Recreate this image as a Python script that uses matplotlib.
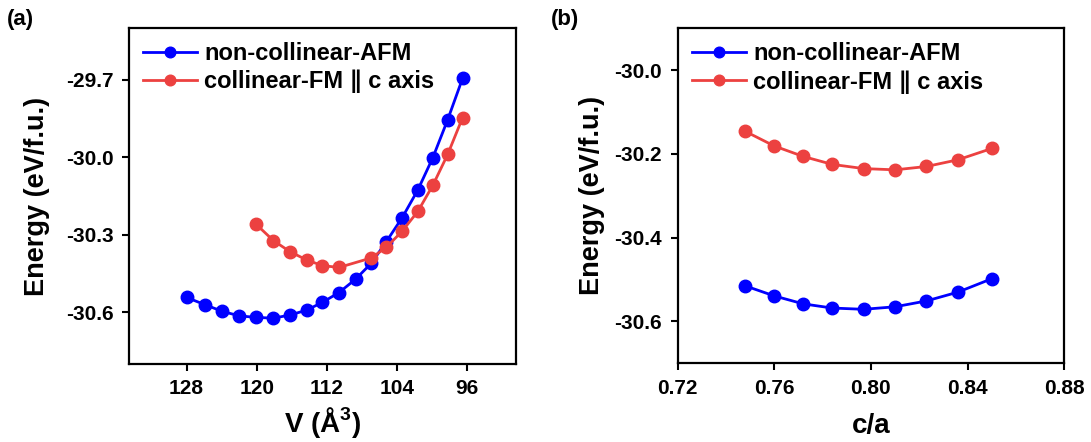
import matplotlib
matplotlib.use("Agg")
import matplotlib.pyplot as plt

plt.rcParams['font.family'] = ['Liberation Sans', 'DejaVu Sans']
plt.rcParams['font.weight'] = 'bold'
plt.rcParams['mathtext.fontset'] = 'custom'
plt.rcParams['mathtext.rm'] = 'Liberation Sans:bold'
plt.rcParams['mathtext.bf'] = 'Liberation Sans:bold'

# ── (a) energy vs volume ──
vol_afm = [128.0, 125.9, 123.9, 122.0, 120.1, 118.1, 116.2, 114.3, 112.5,
           110.6, 108.7, 106.9, 105.2, 103.4, 101.6, 99.9, 98.2, 96.5]
e_afm = [-30.542, -30.570, -30.596, -30.613, -30.619, -30.622, -30.610, -30.591,
         -30.561, -30.523, -30.471, -30.409, -30.326, -30.234, -30.126, -30.002,
         -29.855, -29.695]
vol_fm = [120.1, 118.1, 116.2, 114.3, 112.5, 110.6, 106.9, 105.2, 103.4,
          101.6, 99.9, 98.2, 96.5]
e_fm = [-30.258, -30.322, -30.365, -30.397, -30.419, -30.426, -30.389, -30.348,
        -30.286, -30.209, -30.109, -29.989, -29.847]

# ── (b) energy vs c/a ──
ca = [0.748, 0.760, 0.772, 0.784, 0.797, 0.810, 0.823, 0.836, 0.850]
e_afm_ca = [-30.515, -30.539, -30.558, -30.568, -30.571, -30.565, -30.551,
            -30.530, -30.498]
e_fm_ca = [-30.146, -30.181, -30.206, -30.225, -30.235, -30.238, -30.230,
           -30.214, -30.187]

labels = ['non-collinear-AFM', 'collinear-FM \u2225 c axis']
c_afm = '#0000ff'
c_fm = '#ec4140'

fig = plt.figure(figsize=(10.91, 4.42), dpi=100)
ax1 = fig.add_axes([0.118, 0.176, 0.355, 0.761])
ax2 = fig.add_axes([0.621, 0.178, 0.3545, 0.758])

style = dict(lw=2, marker='o', ms=9)
ax1.plot(vol_afm, e_afm, color=c_afm, label=labels[0], **style)
ax1.plot(vol_fm, e_fm, color=c_fm, label=labels[1], **style)
ax2.plot(ca, e_afm_ca, color=c_afm, label=labels[0], **style)
ax2.plot(ca, e_fm_ca, color=c_fm, label=labels[1], **style)

ax1.set_xlim(134.6, 90.4)
ax1.set_xticks([128, 120, 112, 104, 96])
ax1.set_ylim(-30.8, -29.5)
ax1.set_yticks([-30.6, -30.3, -30.0, -29.7])
ax1.set_yticklabels(['-30.6', '-30.3', '-30.0', '-29.7'])
ax1.set_xlabel('V (Å$^{3}$)', fontsize=20, fontweight='bold', labelpad=5)

ax2.set_xlim(0.72, 0.88)
ax2.set_xticks([0.72, 0.76, 0.80, 0.84, 0.88])
ax2.set_xticklabels(['0.72', '0.76', '0.80', '0.84', '0.88'])
ax2.set_ylim(-30.7, -29.9)
ax2.set_yticks([-30.6, -30.4, -30.2, -30.0])
ax2.set_yticklabels(['-30.6', '-30.4', '-30.2', '-30.0'])
ax2.set_xlabel('c/a', fontsize=20, fontweight='bold', labelpad=11)

for ax in (ax1, ax2):
    ax.set_ylabel('Energy (eV/f.u.)', fontsize=19.5, fontweight='bold')
    ax.tick_params(direction='out', length=5, width=1.5, labelsize=15, pad=6)
    for lab in ax.get_xticklabels() + ax.get_yticklabels():
        lab.set_fontweight('bold')
    for sp in ax.spines.values():
        sp.set_linewidth(1.6)
    ax.legend(loc='upper left', frameon=False, handlelength=2.3,
              borderaxespad=0.2, labelspacing=0.2, handletextpad=0.3,
              markerscale=0.85, prop={'weight': 'bold', 'size': 17})

ax1.yaxis.set_label_coords(-0.204, 0.5)
ax2.yaxis.set_label_coords(-0.188, 0.5)

fig.text(0.006, 0.955, '(a)', fontsize=16, fontweight='bold', va='center')
fig.text(0.505, 0.955, '(b)', fontsize=16, fontweight='bold', va='center')

fig.savefig('out.png', dpi=100)
